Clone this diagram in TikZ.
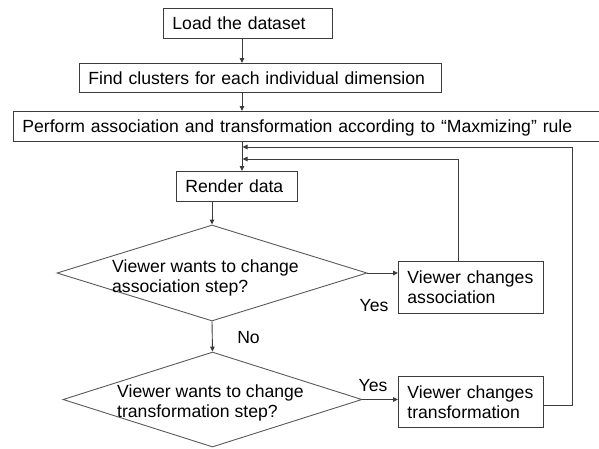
\documentclass[tikz,border=0pt]{standalone}
\usepackage{fontspec}
\setmainfont{Liberation Sans}
\usetikzlibrary{shapes.geometric,arrows.meta}
\definecolor{boxgray}{HTML}{3C3C3C}
\definecolor{diagray}{HTML}{5A5A5A}
\definecolor{linegray}{HTML}{3C3C3C}

\begin{document}
\begin{tikzpicture}[x=1pt,y=-1pt,
  font=\fontsize{17.6}{20.5}\selectfont,
  stepbox/.style={draw=boxgray, line width=0.9pt, anchor=north west,
    inner xsep=9pt, inner ysep=0pt, align=left},
  onebox/.style={stepbox, text height=12.7pt, text depth=0pt},
  choice/.style={draw=diagray, shape=diamond, inner sep=0pt, line width=0.9pt},
  arr/.style={draw=linegray, line width=0.9pt, -{Triangle[length=5pt,width=4.5pt]}},
  lbl/.style={anchor=base, inner sep=0pt},
  qtext/.style={anchor=north west, inner sep=0pt, align=left}]

% canvas
\fill[white] (0,0) rectangle (599,448);
\useasboundingbox (0,0) rectangle (599,448);

% process boxes
\node[onebox, text width=151pt, minimum height=30pt] (load) at (163,8) {Load the dataset};
\node[onebox, text width=344pt, minimum height=29pt] (find) at (79,63) {Find clusters for each individual dimension};
\node[onebox, text width=590pt, minimum height=30pt] (perf) at (13,111) {Perform association and transformation according to “Maxmizing” rule};
\node[onebox, text width=103pt, minimum height=30pt] (render) at (176,171) {Render data};
\node[stepbox, text width=127pt, minimum height=52pt] (assoc) at (398,261) {Viewer changes\\association};
\node[stepbox, text width=127pt, minimum height=51pt] (trans) at (398,376) {Viewer changes\\transformation};

% decisions
\node[choice, minimum width=310pt, minimum height=96pt] (d1) at (212,273) {};
\node[choice, minimum width=299pt, minimum height=95pt] (d2) at (212.5,399.5) {};
\node[qtext] (d1t) at (112,259.4) {Viewer wants to change\\association step?};
\node[qtext] (d2t) at (117,384.4) {Viewer wants to change\\transformation step?};

% routing points
\coordinate (mainx) at (242,0);
\coordinate (j1) at (242.5,159);
\coordinate (j2) at (242.5,147);
\coordinate (r1) at (458,0);
\coordinate (r2) at (572,0);

% main flow
\draw[arr] (load.south -| mainx) -- (find.north -| mainx);
\draw[arr] (find.south -| mainx) -- (perf.north -| mainx);
\draw[arr] (perf.south -| mainx) -- (render.north -| mainx);
\draw[arr] (render.south -| d1.north) -- (d1.north);
\draw[arr] (d1.east) -- (d1.east -| assoc.west);
\draw[arr] (d1.south) -- (d2.north);
\draw[arr] (d2.east) -- (d2.east -| trans.west);

% feedback loops
\draw[arr] (assoc.north -| r1) |- (j1);
\draw[arr] ([yshift=-3.5pt]trans.east) -| (r2 |- j2) -- (j2);

% branch labels
\node[lbl] (yes1) at (374,311.7) {Yes};
\node[lbl] (no) at (248.5,343) {No};
\node[lbl] (yes2) at (373,391) {Yes};
\end{tikzpicture}
\end{document}
